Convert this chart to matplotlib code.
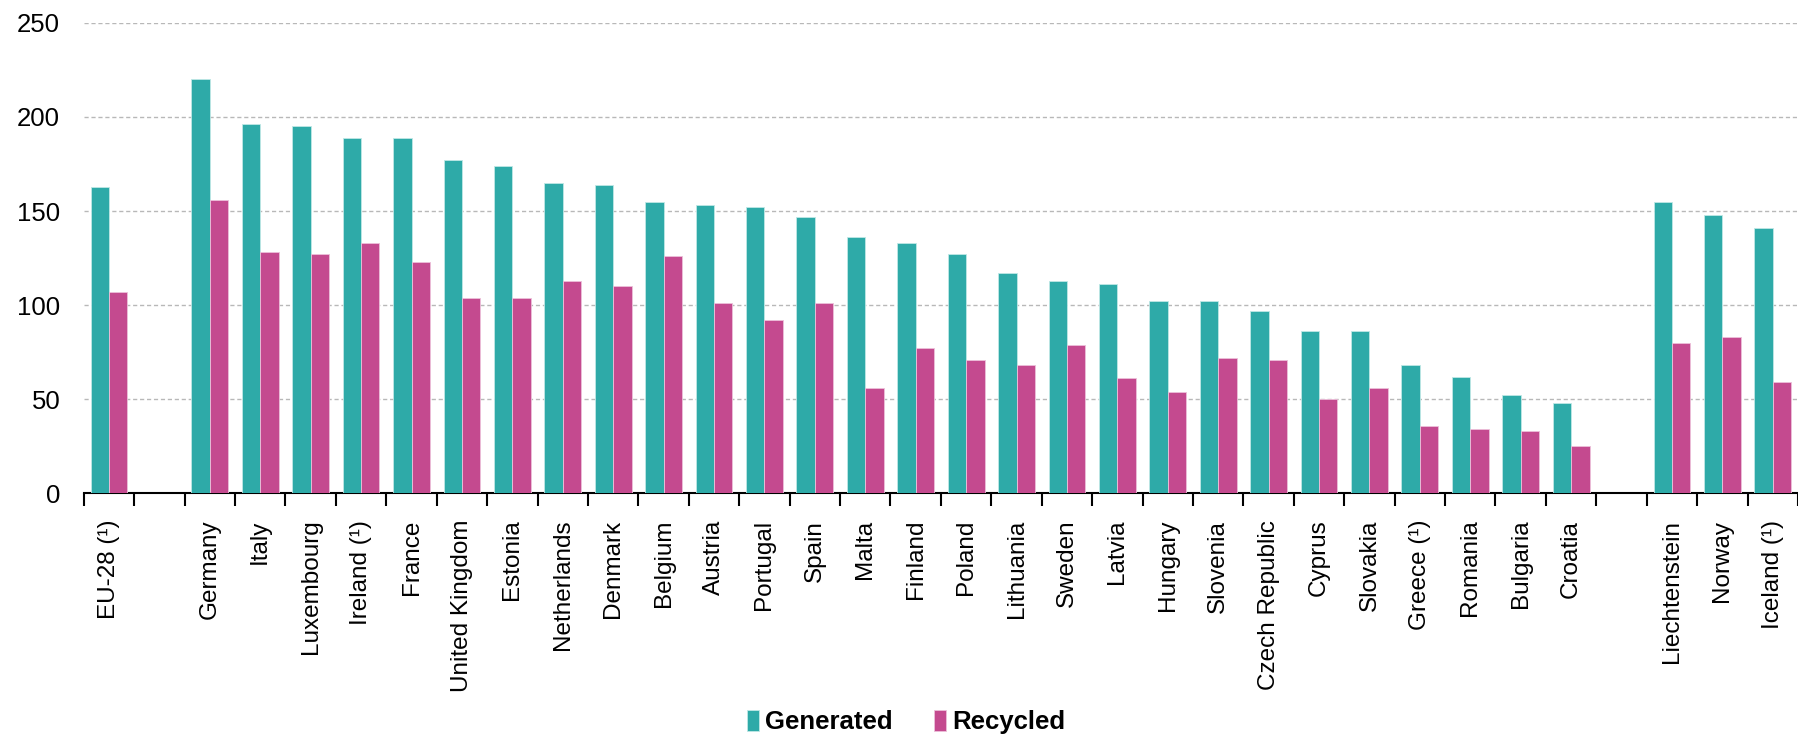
import matplotlib.pyplot as plt
import numpy as np

plt.rcParams['font.family'] = ['Liberation Sans', 'DejaVu Sans']

# Municipal waste per inhabitant, kg: generated and recycled
eu_label = ['EU-28 (¹)']
eu_gen = [163]
eu_rec = [107]

countries = ['Germany', 'Italy', 'Luxembourg', 'Ireland (¹)', 'France', 'United Kingdom',
             'Estonia', 'Netherlands', 'Denmark', 'Belgium', 'Austria', 'Portugal', 'Spain',
             'Malta', 'Finland', 'Poland', 'Lithuania', 'Sweden', 'Latvia', 'Hungary',
             'Slovenia', 'Czech Republic', 'Cyprus', 'Slovakia', 'Greece (¹)', 'Romania',
             'Bulgaria', 'Croatia']
country_gen = [220, 196, 195, 189, 189, 177, 174, 165, 164, 155, 153, 152, 147,
               136, 133, 127, 117, 113, 111, 102, 102, 97, 86, 86, 68, 62, 52, 48]
country_rec = [156, 128, 127, 133, 123, 104, 104, 113, 110, 126, 101, 92, 101,
               56, 77, 71, 68, 79, 61, 54, 72, 71, 50, 56, 36, 34, 33, 25]

efta = ['Liechtenstein', 'Norway', 'Iceland (¹)']
efta_gen = [155, 148, 141]
efta_rec = [80, 83, 59]

# slots, with empty ones between groups
labels = eu_label + [''] + countries + [''] + efta
gen = eu_gen + [np.nan] + country_gen + [np.nan] + efta_gen
rec = eu_rec + [np.nan] + country_rec + [np.nan] + efta_rec

teal = '#2eaaa8'
pink = '#c44a8f'

fig = plt.figure(figsize=(17.98, 7.39), dpi=100)
ax = fig.add_axes([0.0466, 0.3325, 0.9534, 0.6366])

x = np.arange(len(labels))
w = 0.365
ax.bar(x - w / 2, gen, w, color=teal, edgecolor='#bfe8e6', linewidth=0.6, label='Generated', zorder=3)
ax.bar(x + w / 2, rec, w, color=pink, edgecolor='#ecc0da', linewidth=0.6, label='Recycled', zorder=3)

ax.set_xlim(-0.5, len(labels) - 0.5)
ax.set_ylim(0, 250)
ax.set_yticks(range(0, 251, 50))
ax.yaxis.grid(True, color='#b8b8b8', linestyle=(0, (3, 2)), linewidth=1.0, zorder=0)

ax.set_xticks(x)
ax.set_xticklabels(labels, rotation=90, fontsize=17.5, va='top')
ax.set_xticks(np.arange(-0.5, len(labels), 1), minor=True)
ax.tick_params(axis='x', which='major', length=0, pad=19)
ax.tick_params(axis='x', which='minor', length=9, width=1.5, direction='out', color='black')
ax.tick_params(axis='y', length=0, pad=17, labelsize=18.5)

for s in ['top', 'right', 'left']:
    ax.spines[s].set_visible(False)
ax.spines['bottom'].set_linewidth(1.5)

fig.legend(loc='center', bbox_to_anchor=(0.504, 0.023), ncol=2, frameon=False,
           prop={'weight': 'bold', 'size': 18.5}, handlelength=0.45, handleheight=0.9,
           handletextpad=0.25, columnspacing=1.6)

plt.savefig('out.png', dpi=100)
